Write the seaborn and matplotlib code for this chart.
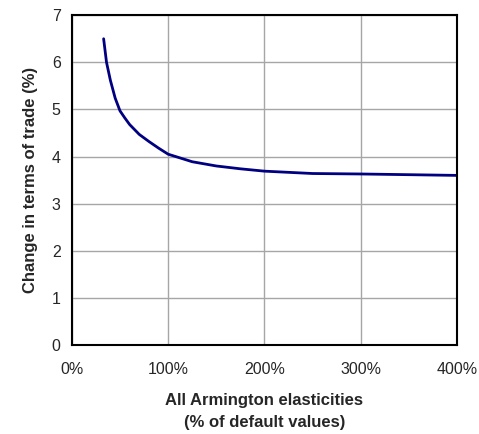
import numpy as np
import pandas as pd
import matplotlib
matplotlib.use("Agg")
import matplotlib.pyplot as plt
import seaborn as sns
from matplotlib.ticker import PercentFormatter

# elasticitati (% din valorile implicite) si variatia termenilor de schimb (%)
elasticity_pct = [33, 36, 40, 45, 50, 55, 60, 70, 80, 90, 100, 125, 150, 175, 200, 250, 300, 400]
tot_change = [6.5, 6.0, 5.62, 5.24, 4.97, 4.82, 4.68, 4.47, 4.32, 4.18, 4.05, 3.89, 3.80, 3.74, 3.69, 3.64, 3.63, 3.60]

df = pd.DataFrame({"elasticity": elasticity_pct, "tot": tot_change})

sns.set_style("white")
plt.rcParams["font.family"] = ["Liberation Sans", "DejaVu Sans"]

fig = plt.figure(figsize=(4.79, 4.34), dpi=100)
ax = fig.add_axes([0.150, 0.205, 0.804, 0.760])

sns.lineplot(data=df, x="elasticity", y="tot", color="#000080", linewidth=2.0, ax=ax)

ax.set_xlim(0, 400)
ax.set_ylim(0, 7)
ax.set_xticks([0, 100, 200, 300, 400])
ax.set_yticks(range(0, 8))
ax.xaxis.set_major_formatter(PercentFormatter(decimals=0))
ax.grid(True, color="#a6a6a6", linewidth=1.0)
ax.set_axisbelow(True)

for s in ax.spines.values():
    s.set_color("black")
    s.set_linewidth(1.5)

ax.tick_params(axis="both", direction="out", length=4, width=1, color="black",
               labelsize=11.5)
ax.tick_params(axis="x", pad=8)
ax.tick_params(axis="y", pad=4)

ax.set_xlabel("All Armington elasticities\n(% of default values)",
              fontsize=12, fontweight="bold", labelpad=12, linespacing=1.55)
ax.set_ylabel("Change in terms of trade (%)", fontsize=12, fontweight="bold", labelpad=10)

fig.savefig("out.png", dpi=100)
